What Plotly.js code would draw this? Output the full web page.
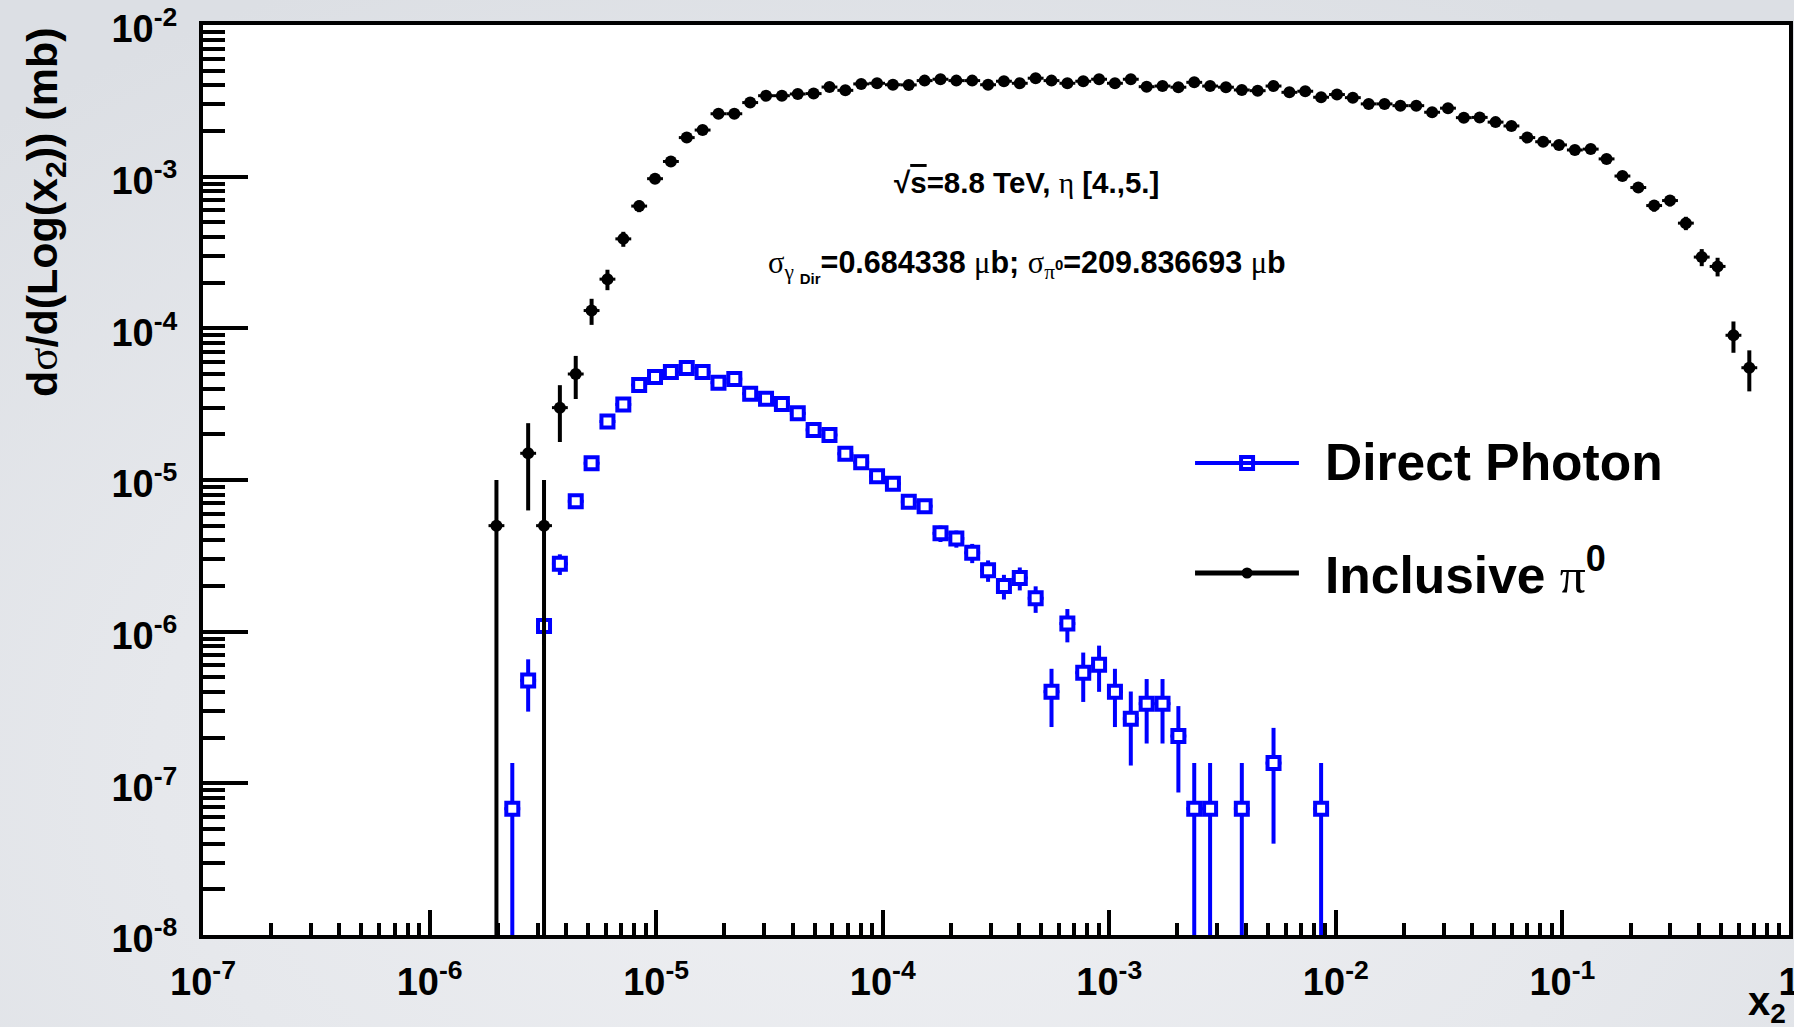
<!DOCTYPE html>
<html>
<head>
<meta charset="utf-8">
<script src="https://cdn.plot.ly/plotly-3.0.1.min.js"></script>
<style>
  html, body { margin:0; padding:0; }
  body { width:1794px; height:1027px; overflow:hidden;
         background: radial-gradient(ellipse 75% 85% at 50% 75%, #eff0f3 0%, #e6e8ec 55%, #dcdfe4 100%); }
  #chart { width:1794px; height:1027px; }
</style>
</head>
<body>
<div id="chart"></div>
<script>
// Histogram binning: 100 bins in log10(x2) from -7 to 0
const LOG_MIN = -7, LOG_MAX = 0, N_BINS = 100;
const BIN_W = (LOG_MAX - LOG_MIN) / N_BINS;

// Direct Photon (blue open squares): bin index, value (mb), error (mb)
const gammaBins = [19,20,21,22,23,24,25,26,27,28,29,30,31,32,33,34,35,36,37,38,39,40,41,42,43,44,45,46,47,48,49,50,51,52,53,54,55,56,57,58,59,60,61,62,63,65,67,70];
const gammaVals = [6.8e-8,4.77e-7,1.09e-6,2.80e-6,7.24e-6,1.29e-5,2.43e-5,3.15e-5,4.23e-5,4.78e-5,5.15e-5,5.47e-5,5.15e-5,4.38e-5,4.63e-5,3.71e-5,3.44e-5,3.17e-5,2.75e-5,2.14e-5,1.98e-5,1.49e-5,1.31e-5,1.06e-5,9.46e-6,7.18e-6,6.72e-6,4.45e-6,4.11e-6,3.31e-6,2.54e-6,2.00e-6,2.26e-6,1.66e-6,4.02e-7,1.13e-6,5.36e-7,6.05e-7,4.02e-7,2.67e-7,3.35e-7,3.35e-7,2.05e-7,6.8e-8,6.8e-8,6.8e-8,1.36e-7,6.8e-8];
const gammaErrs = [6.8e-8,1.8e-7,2.72e-7,4.35e-7,7.0e-7,9.4e-7,1.28e-6,1.46e-6,1.70e-6,1.80e-6,1.87e-6,1.93e-6,1.87e-6,1.73e-6,1.77e-6,1.59e-6,1.53e-6,1.47e-6,1.37e-6,1.21e-6,1.16e-6,1.01e-6,9.4e-7,8.5e-7,8.0e-7,7.0e-7,6.8e-7,5.5e-7,5.3e-7,4.8e-7,4.1e-7,3.7e-7,3.9e-7,3.3e-7,1.67e-7,2.8e-7,1.92e-7,2.04e-7,1.67e-7,1.36e-7,1.52e-7,1.52e-7,1.18e-7,6.8e-8,6.8e-8,6.8e-8,9.6e-8,6.8e-8];

// Inclusive pi0 (black filled circles): bin index, value (mb), error (mb)
const pi0Bins = [18,20,21,22,23,24,25,26,27,28,29,30,31,32,33,34,35,36,37,38,39,40,41,42,43,44,45,46,47,48,49,50,51,52,53,54,55,56,57,58,59,60,61,62,63,64,65,66,67,68,69,70,71,72,73,74,75,76,77,78,79,80,81,82,83,84,85,86,87,88,89,90,91,92,93,94,95,96,97];
const pi0Vals = [5.0e-6,1.5e-5,5.0e-6,3.0e-5,5.0e-5,1.31e-4,2.11e-4,3.89e-4,6.4e-4,9.7e-4,1.26e-3,1.81e-3,2.03e-3,2.60e-3,2.60e-3,3.08e-3,3.42e-3,3.42e-3,3.51e-3,3.53e-3,3.90e-3,3.71e-3,4.09e-3,4.13e-3,4.04e-3,4.03e-3,4.30e-3,4.39e-3,4.30e-3,4.30e-3,4.04e-3,4.26e-3,4.13e-3,4.46e-3,4.30e-3,4.13e-3,4.26e-3,4.39e-3,4.13e-3,4.39e-3,3.92e-3,3.96e-3,3.89e-3,4.19e-3,3.96e-3,3.89e-3,3.73e-3,3.69e-3,3.96e-3,3.60e-3,3.66e-3,3.34e-3,3.48e-3,3.32e-3,3.02e-3,3.02e-3,2.94e-3,2.94e-3,2.66e-3,2.83e-3,2.45e-3,2.46e-3,2.29e-3,2.16e-3,1.81e-3,1.70e-3,1.62e-3,1.50e-3,1.52e-3,1.31e-3,1.01e-3,8.48e-4,6.45e-4,6.96e-4,4.94e-4,2.95e-4,2.56e-4,9.0e-5,5.5e-5];
const pi0Errs = [5.0e-6,8.7e-6,5.0e-6,1.22e-5,1.58e-5,2.56e-5,3.25e-5,4.41e-5,5.66e-5,6.96e-5,7.94e-5,9.51e-5,1.01e-4,1.14e-4,1.14e-4,1.24e-4,1.31e-4,1.31e-4,1.32e-4,1.33e-4,1.40e-4,1.36e-4,1.43e-4,1.44e-4,1.42e-4,1.42e-4,1.47e-4,1.48e-4,1.47e-4,1.47e-4,1.42e-4,1.46e-4,1.44e-4,1.49e-4,1.47e-4,1.44e-4,1.46e-4,1.48e-4,1.44e-4,1.48e-4,1.40e-4,1.41e-4,1.39e-4,1.45e-4,1.41e-4,1.39e-4,1.37e-4,1.36e-4,1.41e-4,1.34e-4,1.35e-4,1.29e-4,1.32e-4,1.29e-4,1.23e-4,1.23e-4,1.21e-4,1.21e-4,1.15e-4,1.19e-4,1.11e-4,1.11e-4,1.07e-4,1.04e-4,9.5e-5,9.2e-5,9.0e-5,8.7e-5,8.7e-5,8.1e-5,7.1e-5,6.5e-5,5.7e-5,5.9e-5,5.0e-5,3.8e-5,3.6e-5,2.1e-5,1.66e-5];

// Axis tick labels
const majorTickVals = [1e-7,1e-6,1e-5,1e-4,1e-3,1e-2,1e-1,1];
const majorTickText = ['10<sup>-7</sup>','10<sup>-6</sup>','10<sup>-5</sup>','10<sup>-4</sup>','10<sup>-3</sup>','10<sup>-2</sup>','10<sup>-1</sup>','1'];
const yTickVals = [1e-8,1e-7,1e-6,1e-5,1e-4,1e-3,1e-2];
const yTickText = ['10<sup>-8</sup>','10<sup>-7</sup>','10<sup>-6</sup>','10<sup>-5</sup>','10<sup>-4</sup>','10<sup>-3</sup>','10<sup>-2</sup>'];

function minorTicks(d0, d1) {
  const out = [];
  for (let d = d0; d < d1; d++) for (let k = 2; k <= 9; k++) out.push(k * Math.pow(10, d));
  return out;
}
const binCenter = i => Math.pow(10, LOG_MIN + BIN_W * (i + 0.5));
const upFac = Math.pow(10, BIN_W / 2) - 1, dnFac = 1 - Math.pow(10, -BIN_W / 2);

function series(bins, vals, errs, color, marker) {
  const x = bins.map(binCenter);
  return {
    type: 'scatter', mode: 'markers', x: x, y: vals,
    marker: marker, cliponaxis: true, hoverinfo: 'x+y',
    error_y: { type: 'data', array: errs, visible: true, color: color, thickness: 4, width: 0 },
    error_x: { type: 'data', symmetric: false, array: x.map(v => v * upFac), arrayminus: x.map(v => v * dnFac),
               visible: true, color: color, thickness: 3, width: 0, copy_ystyle: false }
  };
}

const BLUE = '#0000ff';
const traces = [
  series(gammaBins, gammaVals, gammaErrs, BLUE, { symbol: 'square', size: 12, color: '#ffffff', line: { color: BLUE, width: 4 } }),
  series(pi0Bins, pi0Vals, pi0Errs, '#000000', { symbol: 'circle', size: 12, color: '#000000', line: { width: 0 } })
];

const FONT = 'Liberation Sans, Arial, Helvetica, sans-serif';
const SERIF = "font-family:'Liberation Serif',serif;font-weight:normal";
const axisCommon = {
  type: 'log', tickmode: 'array', ticks: 'inside', tickwidth: 4, tickcolor: '#000',
  showline: true, linewidth: 4, linecolor: '#000', mirror: true,
  showgrid: false, zeroline: false, fixedrange: true, ticklabeloverflow: 'allow',
  tickfont: { family: FONT, size: 38, color: '#000', weight: 'bold' }
};

const layout = {
  width: 1794, height: 1027,
  margin: { l: 203, r: 5, t: 25, b: 92, pad: 0 },
  paper_bgcolor: 'rgba(0,0,0,0)', plot_bgcolor: '#ffffff',
  showlegend: false,
  xaxis: Object.assign({}, axisCommon, {
    range: [LOG_MIN - 0.0002, LOG_MAX + 0.0002], tickvals: majorTickVals, ticktext: majorTickText, ticklen: 25,
    ticklabelstandoff: 10,
    minor: { tickmode: 'array', tickvals: minorTicks(-7, 0), ticks: 'inside', ticklen: 12, tickwidth: 4, tickcolor: '#000', showgrid: false }
  }),
  yaxis: Object.assign({}, axisCommon, {
    range: [-8.0002, -1.9998], tickvals: yTickVals, ticktext: yTickText, ticklen: 45,
    ticklabelstandoff: 14, ticklabelshift: 4,
    minor: { tickmode: 'array', tickvals: minorTicks(-8, -2), ticks: 'inside', ticklen: 22, tickwidth: 4, tickcolor: '#000', showgrid: false }
  }),
  annotations: [
    { xref: 'paper', yref: 'paper', x: -0.0996, y: 0.7945, xanchor: 'center', yanchor: 'middle', textangle: -90, showarrow: false,
      text: "d<span style=\"" + SERIF + "\">σ</span>/d(Log(x<sub>2</sub>)) (mb)",
      font: { family: FONT, size: 43, color: '#000', weight: 'bold' } },
    { xref: 'paper', yref: 'paper', x: 0.5195, y: 0.8264, xanchor: 'center', yanchor: 'middle', showarrow: false,
      text: "√<span style=\"text-decoration:overline\">s</span>=8.8 TeV, <span style=\"" + SERIF + "\">η</span> [4.,5.]",
      font: { family: FONT, size: 29.5, color: '#000', weight: 'bold' } },
    { xref: 'paper', yref: 'paper', x: 0.5195, y: 0.735, xanchor: 'center', yanchor: 'middle', showarrow: false,
      text: "<span style=\"" + SERIF + "\">σ</span><sub><span style=\"" + SERIF + "\">γ</span> <sub>Dir</sub></sub>=0.684338 <span style=\"" + SERIF + "\">μ</span>b; <span style=\"" + SERIF + "\">σ</span><sub><span style=\"" + SERIF + "\">π</span><sup>0</sup></sub>=209.836693 <span style=\"" + SERIF + "\">μ</span>b",
      font: { family: FONT, size: 30.5, color: '#000', weight: 'bold' } },
    { xref: 'paper', yref: 'paper', x: 0.7062, y: 0.5195, xanchor: 'left', yanchor: 'middle', showarrow: false,
      text: 'Direct Photon', font: { family: FONT, size: 51.5, color: '#000', weight: 'bold' } },
    { xref: 'paper', yref: 'paper', x: 0.7062, y: 0.4005, xanchor: 'left', yanchor: 'middle', showarrow: false,
      text: "Inclusive <span style=\"" + SERIF + "\">π</span><sup>0</sup>", font: { family: FONT, size: 51.5, color: '#000', weight: 'bold' } },
    { xref: 'paper', yref: 'paper', x: 0.9729, y: -0.0758, xanchor: 'left', yanchor: 'middle', showarrow: false,
      text: 'x<sub>2</sub>', font: { family: FONT, size: 40, color: '#000', weight: 'bold' } }
  ],
  shapes: [
    { type: 'rect', xref: 'paper', yref: 'paper', xsizemode: 'pixel', ysizemode: 'pixel', xanchor: 0.6583, yanchor: 0.5187,
      x0: -6, x1: 6, y0: -6, y1: 6, line: { color: BLUE, width: 4 }, fillcolor: '#ffffff' },
    { type: 'line', xref: 'paper', yref: 'paper', x0: 0.6255, x1: 0.691, y0: 0.5187, y1: 0.5187, line: { color: BLUE, width: 4 } },
    { type: 'line', xref: 'paper', yref: 'paper', x0: 0.6255, x1: 0.691, y0: 0.3978, y1: 0.3978, line: { color: '#000', width: 5 } },
    { type: 'circle', xref: 'paper', yref: 'paper', xsizemode: 'pixel', ysizemode: 'pixel', xanchor: 0.6583, yanchor: 0.3978,
      x0: -5.5, x1: 5.5, y0: -5.5, y1: 5.5, line: { width: 0 }, fillcolor: '#000' }
  ]
};

Plotly.newPlot('chart', traces, layout, { displayModeBar: false, staticPlot: true });
</script>
</body>
</html>
